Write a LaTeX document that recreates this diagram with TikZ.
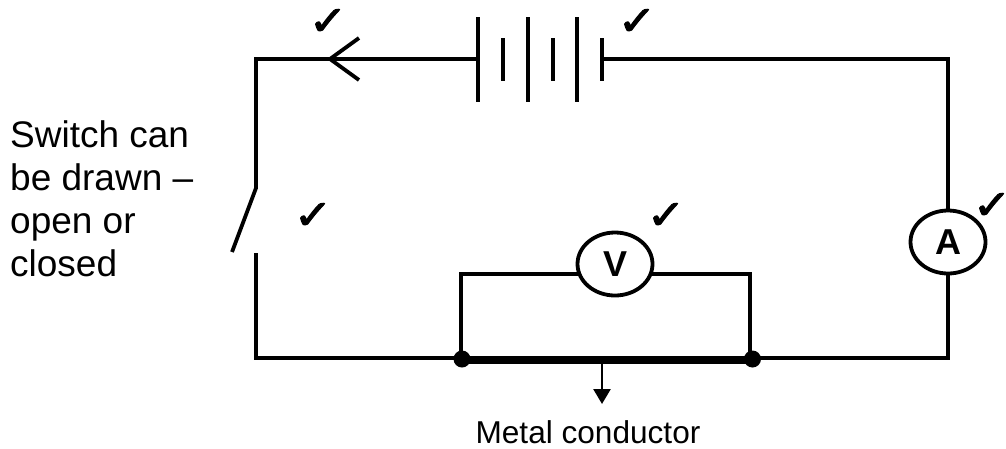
\documentclass[tikz,border=0pt]{standalone}
\usepackage{fontspec}
\setmainfont{Liberation Sans}
\newfontfamily\tickfont[FakeBold=2.5]{DejaVu Sans}
\usetikzlibrary{shapes.geometric,arrows.meta}
\tikzset{
  wire/.style={line width=3.8pt,line cap=butt,line join=miter},
  meter/.style={draw,ellipse,line width=3.8pt,minimum width=75pt,minimum height=63pt,inner sep=0pt,fill=white,font=\fontsize{36}{36}\selectfont\bfseries},
  junction/.style={circle,fill=black,minimum size=17pt,inner sep=0pt},
  tick/.style={inner sep=0pt,font=\tickfont\fontsize{46}{46}\selectfont},
  switchtext/.style={anchor=west,inner sep=0pt,align=left,font=\fontsize{37}{43}\selectfont},
  caption/.style={inner sep=0pt,font=\fontsize{31.6}{36}\selectfont}
}
\newcommand{\tk}{\scalebox{1}[0.88]{✓}}
\begin{document}
\begin{tikzpicture}[x=1pt,y=-1pt]
\useasboundingbox (0,0) rectangle (1006,448);
\coordinate (tl) at (256,59);
\coordinate (tr) at (948,59);
\coordinate (bl) at (256,358);
\coordinate (br) at (948,358);
\coordinate (swtop) at (256,188);
\coordinate (swblade) at (232,252);
\coordinate (swlow) at (256,253);
\coordinate (tip) at (330,59);
\coordinate (wingu) at (359,38);
\coordinate (wingd) at (359,80);
\coordinate (vl) at (461,274);
\coordinate (vr) at (750,274);
\coordinate (rodl) at (462,360.5);
\coordinate (rodr) at (752,360.5);
\coordinate (jl) at (461,358);
\coordinate (jr) at (750,358);
\coordinate (arrowtop) at (602,360);
\coordinate (arrowend) at (602,404);
\foreach \n/\x in {a/478,c/528,e/577}{
  \coordinate (\n t) at (\x,17);
  \coordinate (\n b) at (\x,102);
  \draw[wire] (\n t) -- (\n b);
}
\foreach \n/\x in {b/503,d/553,f/602}{
  \coordinate (\n t) at (\x,38);
  \coordinate (\n b) at (\x,81);
  \draw[wire] (\n t) -- (\n b);
}
\coordinate (bl1) at (478,59);
\coordinate (br1) at (602,59);
\draw[wire] (bl1) -- (tip) -- (tl) -- (swtop) -- (swblade);
\draw[wire] (wingu) -- (tip) -- (wingd);
\draw[wire] (swlow) -- (bl) -- (br) -- (tr) -- (br1);
\draw[wire] (jl) -- (vl) -- (vr) -- (jr);
\draw[line width=7.5pt] (rodl) -- (rodr);
\draw[line width=2.6pt,-{Triangle[length=15pt,width=17pt]}] (arrowtop) -- (arrowend);
\node[meter] (A) at (948,242) {\raisebox{-7pt}{A}};
\node[meter] (V) at (615,264) {\raisebox{-6pt}{V}};
\node[junction] (j1) at (462,359) {};
\node[junction] (j2) at (752.5,359) {};
\node[switchtext] (sw) at (10,199) {Switch can\\be drawn –\\open or\\closed};
\node[caption] (mc) at (588,432) {Metal conductor};
\node[tick] (t1) at (328,22) {\tk};
\node[tick] (t2) at (637,22) {\tk};
\node[tick] (t3) at (313,216) {\tk};
\node[tick] (t4) at (666,216) {\tk};
\node[tick] (t5) at (992,206) {\tk};
\end{tikzpicture}
\end{document}
